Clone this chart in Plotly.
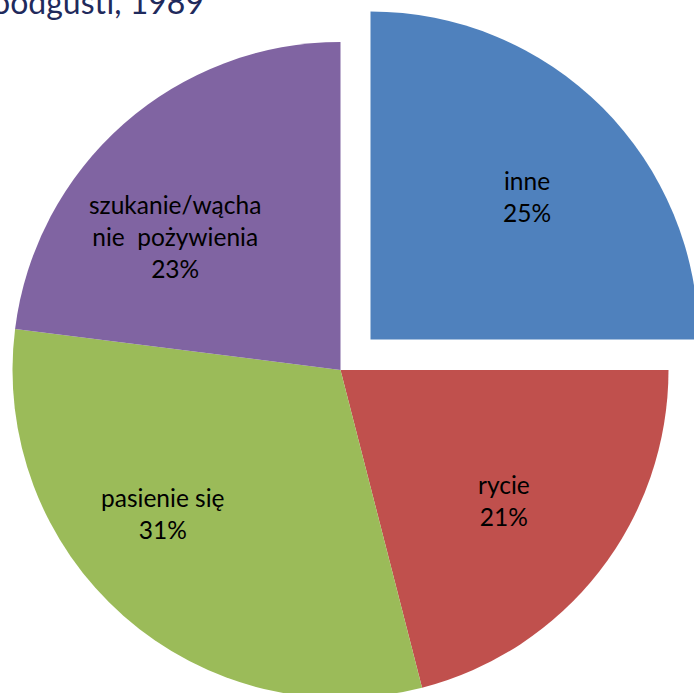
import plotly.graph_objects as go

# ---- data ----
labels = ["inne", "rycie", "pasienie się", "szukanie/wąchanie pożywienia"]
display_labels = ["inne", "rycie", "pasienie się", "szukanie/wącha<br>nie  pożywienia"]
values = [25, 21, 31, 23]
title_text = "oodgusti, 1989"

colors = ["#4F81BD", "#C0504D", "#9BBB59", "#8064A2"]
clear = "rgba(0,0,0,0)"

W, H = 700, 700
def px_x(x): return x / W
def px_y(y): return 1 - y / H

total = sum(values)
pct = [f"{round(v / total * 100)}%" for v in values]

# unpulled slices (all except first)
colA = [clear] + colors[1:]
# exploded slice (first only)
colB = [colors[0]] + [clear] * (len(values) - 1)

r = 328
cA = (340.5, 370.0)
cB = (370.5, 339.5)

fig = go.Figure()
fig.add_trace(go.Pie(
    labels=labels, values=values, sort=False, direction="clockwise", rotation=0,
    marker=dict(colors=colA, line=dict(width=0)), textinfo="none",
    domain=dict(x=[px_x(cA[0] - r), px_x(cA[0] + r)], y=[px_y(cA[1] + r), px_y(cA[1] - r)]),
    showlegend=False, hoverinfo="skip",
))
fig.add_trace(go.Pie(
    labels=labels, values=values, sort=False, direction="clockwise", rotation=0,
    marker=dict(colors=colB, line=dict(width=0)), textinfo="none",
    domain=dict(x=[px_x(cB[0] - r), px_x(cB[0] + r)], y=[px_y(cB[1] + r), px_y(cB[1] - r)]),
    showlegend=False, hoverinfo="skip",
))

label_pos = [(527, 197), (504, 500), (163, 513), (175, 237)]
font_family = "Lato, 'Open Sans', sans-serif"
for lab, p, (x, y) in zip(display_labels, pct, label_pos):
    fig.add_annotation(
        x=px_x(x), y=px_y(y), xref="paper", yref="paper",
        text=f"{lab}<br>{p}", showarrow=False, xanchor="center", yanchor="middle",
        font=dict(family=font_family, size=24.5, color="#000000"), align="center",
    )

fig.add_annotation(
    x=px_x(206), y=px_y(1), xref="paper", yref="paper", text=title_text,
    showarrow=False, xanchor="right", yanchor="middle",
    font=dict(family=font_family, size=32, color="#1F2A5C"),
)

fig.update_layout(
    width=W, height=H, margin=dict(l=0, r=0, t=0, b=0),
    paper_bgcolor="white", plot_bgcolor="white",
)

fig.write_html(
    "out.html",
    config={"displayModeBar": False},
    post_script="document.body.style.margin='0';document.body.style.overflow='hidden';",
)
